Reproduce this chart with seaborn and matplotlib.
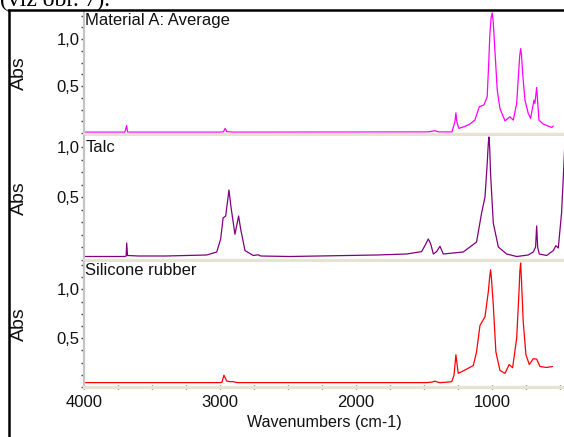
import numpy as np
import pandas as pd
import matplotlib
matplotlib.use("Agg")
import matplotlib.pyplot as plt
from matplotlib.ticker import FixedLocator, MultipleLocator, FuncFormatter
from matplotlib.lines import Line2D
import seaborn as sns

# ---------------- data ----------------
panel_titles = ["Material A: Average", "Talc", "Silicone rubber"]
x_ticks = [4000, 3000, 2000, 1000]
y_ticks = [0.5, 1.0]
y_tick_labels = ["0,5", "1,0"]
x_label = "Wavenumbers (cm-1)"
y_label = "Abs"

material_a_wn = [4000, 3700, 3686, 3680, 3672, 3000, 2975, 2962, 2950, 2900, 1600, 1470, 1420,
                 1390, 1294, 1272, 1265, 1258, 1243, 1200, 1162, 1125, 1093, 1059, 1035, 1025,
                 1015, 1006, 998, 990, 978, 961, 941, 904, 868, 843, 818, 796, 789, 783, 774,
                 757, 733, 716, 691, 684, 671, 654, 623, 561, 549]
material_a_abs = [0.01, 0.01, 0.08, 0.012, 0.01, 0.01, 0.012, 0.05, 0.015, 0.01, 0.012, 0.012,
                  0.025, 0.012, 0.012, 0.12, 0.216, 0.12, 0.05, 0.07, 0.096, 0.14, 0.28, 0.30,
                  0.386, 0.70, 1.06, 1.23, 1.28, 1.18, 0.88, 0.457, 0.26, 0.13, 0.173, 0.138,
                  0.316, 0.82, 0.90, 0.84, 0.635, 0.35, 0.21, 0.156, 0.35, 0.316, 0.486, 0.138,
                  0.096, 0.06, 0.074]

talc_wn = [4000, 3700, 3690, 3686, 3680, 3600, 3400, 3098, 3024, 2995, 2977, 2958, 2945, 2934,
           2919, 2890, 2863, 2848, 2816, 2755, 2720, 2700, 2485, 1848, 1627, 1517, 1493, 1468,
           1450, 1431, 1407, 1382, 1358, 1211, 1113, 1076, 1051, 1035, 1027, 1022, 1016, 1010,
           990, 953, 892, 818, 733, 696, 679, 671, 664, 652, 598, 549, 530, 512, 488, 476, 465]
talc_abs = [-0.095, -0.095, -0.09, 0.04, -0.085, -0.09, -0.09, -0.08, -0.05, 0.08, 0.29, 0.31,
            0.45, 0.57, 0.40, 0.127, 0.31, 0.18, -0.036, -0.085, -0.078, -0.09, -0.095, -0.08,
            -0.07, -0.046, 0.013, 0.08, 0.03, -0.07, -0.046, 0.007, -0.07, -0.05, 0.05, 0.34,
            0.50, 0.83, 1.03, 1.10, 0.98, 0.73, 0.24, 0.0, -0.07, -0.095, -0.08, -0.05, 0.0,
            0.21, 0.0, -0.07, -0.085, -0.036, 0.013, -0.01, 0.34, 0.67, 1.0]

silicone_wn = [4000, 3000, 2985, 2971, 2950, 2920, 2905, 2890, 2870, 1480, 1440, 1419, 1400,
               1382, 1296, 1279, 1265, 1248, 1223, 1137, 1113, 1088, 1051, 1027, 1017, 1010,
               1003, 990, 971, 941, 904, 873, 848, 818, 800, 795, 789, 783, 770, 750, 725, 696,
               671, 647, 598, 555]
silicone_abs = [0.045, 0.045, 0.05, 0.12, 0.06, 0.054, 0.055, 0.05, 0.045, 0.045, 0.05, 0.06,
                0.05, 0.044, 0.054, 0.12, 0.33, 0.14, 0.156, 0.22, 0.36, 0.63, 0.72, 0.97,
                1.12, 1.20, 1.10, 0.84, 0.36, 0.17, 0.14, 0.23, 0.197, 0.50, 1.0, 1.18, 1.27,
                1.10, 0.67, 0.33, 0.23, 0.29, 0.285, 0.21, 0.20, 0.21]

series_wn = [material_a_wn, talc_wn, silicone_wn]
series_abs = [material_a_abs, talc_abs, silicone_abs]
colors = ["#ff00ff", "#800080", "#ff0000"]
ylims = [(-0.01, 1.29), (-0.13, 1.11), (0.0, 1.28)]

# ---------------- style ----------------
sns.set_theme(style="white")
plt.rcParams["font.family"] = ["Liberation Sans", "DejaVu Sans"]

W, H = 564, 437
fig = plt.figure(figsize=(W / 100, H / 100), dpi=100)
fig.patch.set_facecolor("white")

left_px, right_px = 84, 564
panels_px = [(12, 134), (136, 260), (262, 387)]


def fmt(v, p):
    r = round(v, 3)
    return y_tick_labels[y_ticks.index(r)] if r in y_ticks else ""


for i, (t, b) in enumerate(panels_px):
    ax = fig.add_axes([left_px / W, (H - b) / H, (right_px - left_px) / W, (b - t) / H])
    df = pd.DataFrame({"wn": series_wn[i], "abs": series_abs[i]})
    sns.lineplot(data=df, x="wn", y="abs", ax=ax, color=colors[i], linewidth=0.9,
                 sort=False, estimator=None)
    ax.set_xlim(4000, 470)
    ax.set_ylim(*ylims[i])
    ax.set_facecolor("white")
    for s in ["top", "right"]:
        ax.spines[s].set_visible(False)
    ax.spines["left"].set_color("#c4c4c4")
    ax.spines["left"].set_linewidth(1.6)
    ax.spines["bottom"].set_color("#e6e2d4")
    ax.spines["bottom"].set_linewidth(2.4)
    ax.yaxis.set_major_locator(FixedLocator(y_ticks))
    ax.yaxis.set_major_formatter(FuncFormatter(fmt))
    ax.yaxis.set_minor_locator(MultipleLocator(0.125))
    ax.tick_params(axis="y", which="both", left=True, direction="out", length=2.2,
                   width=1.0, color="#404040", pad=1, labelsize=12, labelcolor="#111111")
    ax.set_ylabel(y_label, fontsize=14, color="#111111")
    ax.yaxis.set_label_coords(-(left_px - 28) / (right_px - left_px), 0.5)
    ax.text(0.003, 0.99 if i != 1 else 0.965, panel_titles[i], transform=ax.transAxes,
            ha="left", va="top", fontsize=12, color="#111111")
    if i < 2:
        ax.set_xticks([])
        ax.set_xlabel("")
    else:
        ax.xaxis.set_major_locator(FixedLocator(x_ticks))
        ax.xaxis.set_minor_locator(MultipleLocator(250))
        ax.tick_params(axis="x", which="both", bottom=True, direction="inout", length=3,
                       width=1.0, color="#404040", pad=4, labelsize=12,
                       labelcolor="#111111")
        ax.set_xlabel(x_label, fontsize=11.6, color="#111111", labelpad=4)
    ax.grid(False)

# outer frame (partly cropped in the source image)
fig.add_artist(Line2D([9 / W, 9 / W], [0, (H - 10) / H], transform=fig.transFigure,
                      color="black", linewidth=1.8))
fig.add_artist(Line2D([8 / W, 1.0], [(H - 10) / H, (H - 10) / H], transform=fig.transFigure,
                      color="black", linewidth=1.8))
# caption text at the very top (cropped in the source)
fig.text(0.0, (H - 6) / H, "(viz obr. 7).", fontsize=17,
         family=["Liberation Serif", "DejaVu Serif"],
         ha="left", va="baseline", color="black")

fig.savefig("out.png", dpi=100)
